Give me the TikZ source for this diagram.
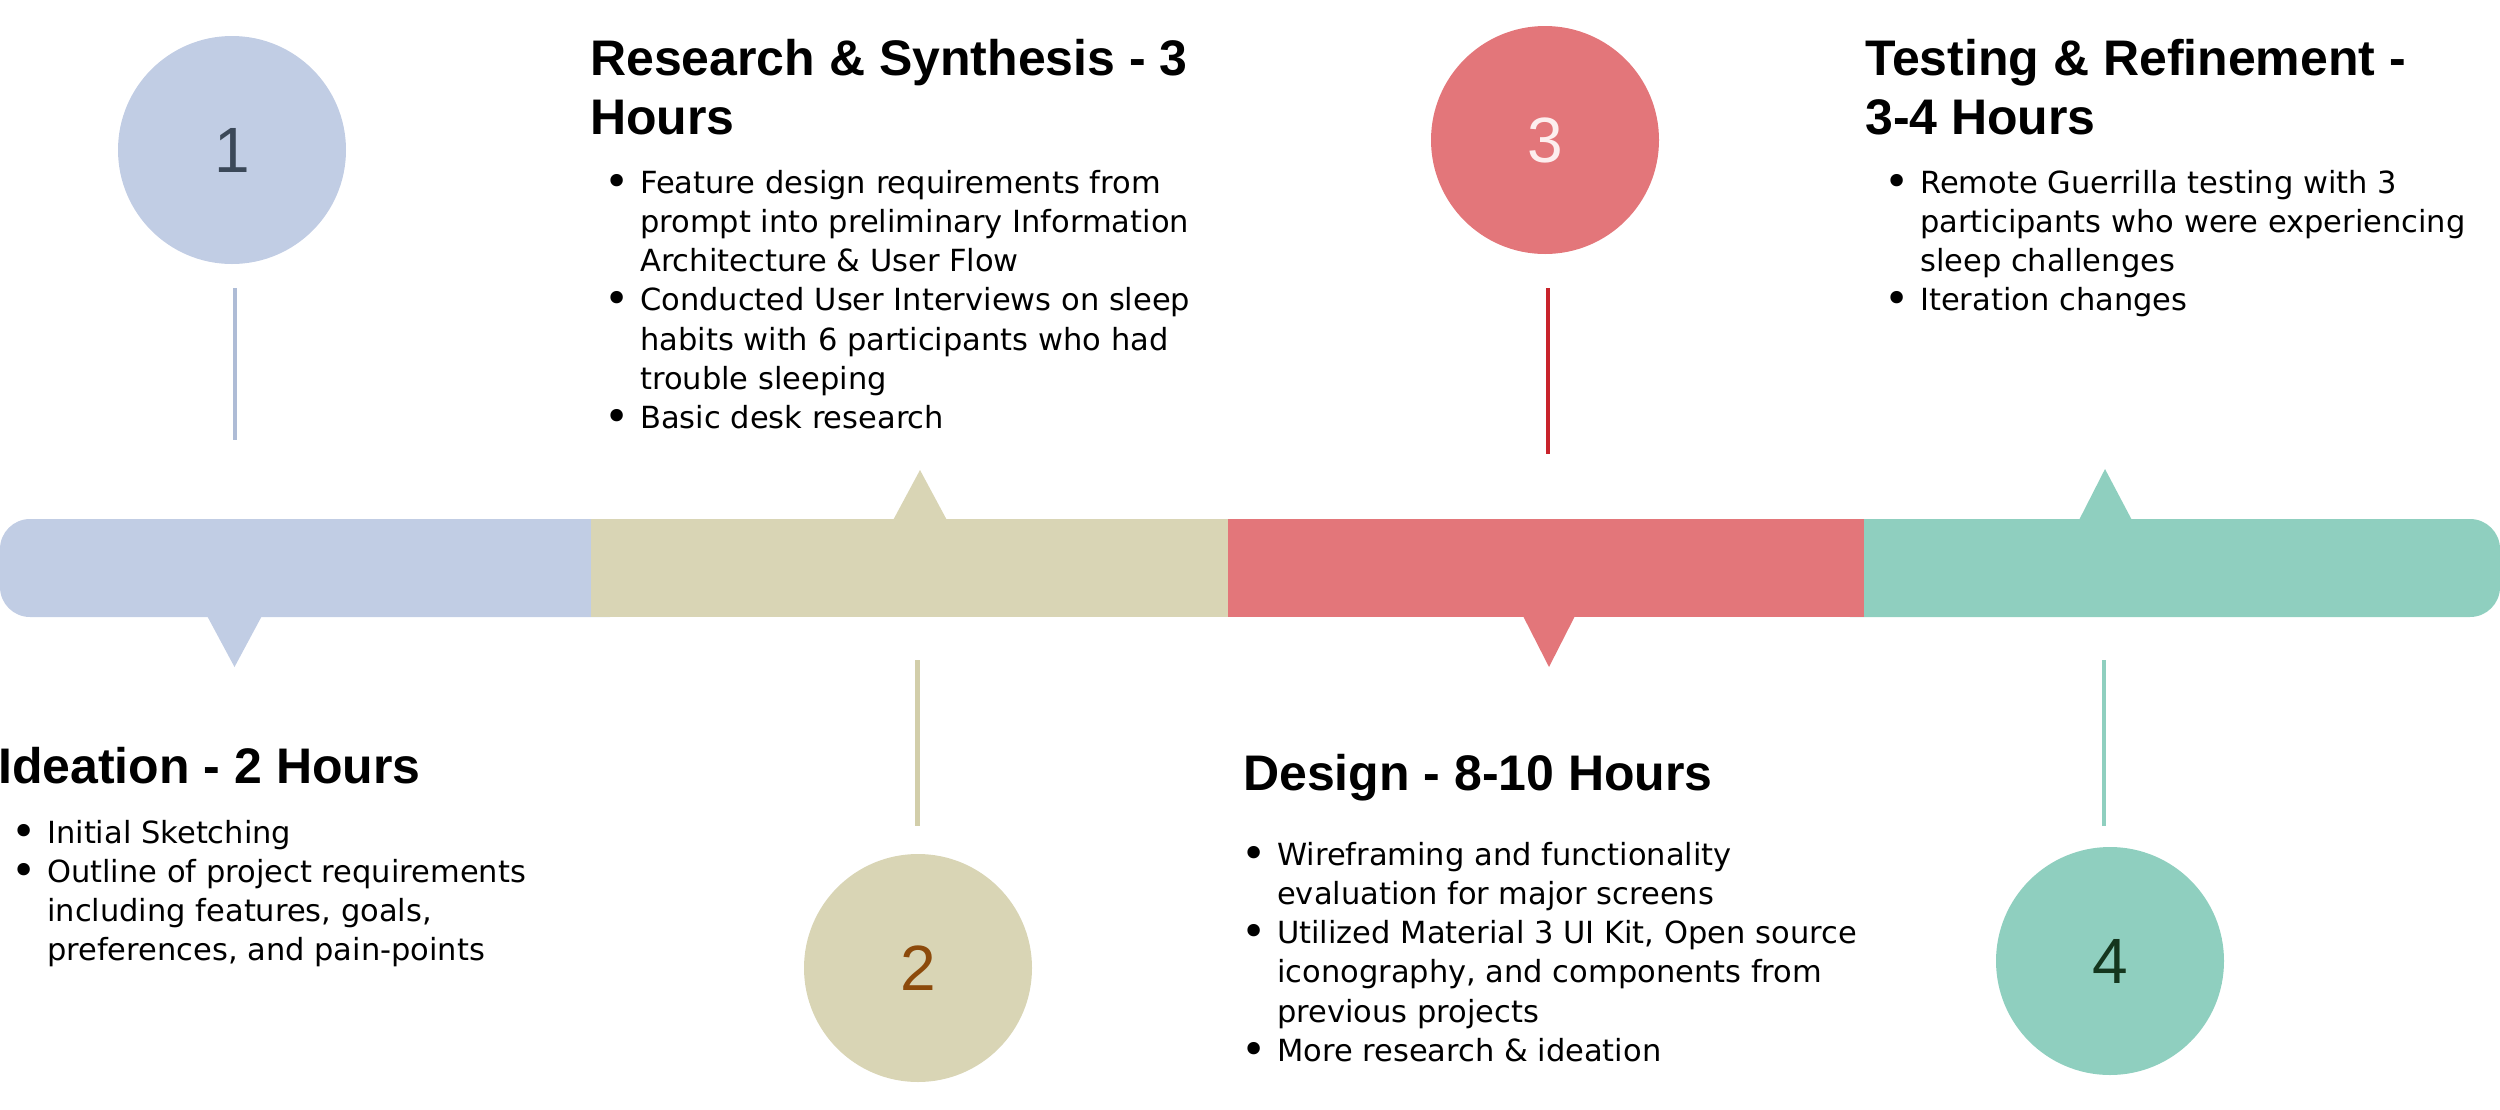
\documentclass[tikz,border=0pt]{standalone}
\usepackage{fontspec}
\usepackage{graphicx}
\setmainfont{DejaVu Sans}
\newfontfamily\titlefont{Liberation Sans}
\newfontfamily\numfont{Liberation Sans}
\definecolor{cblue}{HTML}{C1CDE4}
\definecolor{cbeige}{HTML}{D9D5B5}
\definecolor{cred}{HTML}{E3767A}
\definecolor{cteal}{HTML}{8FCFBF}
\definecolor{lblue}{HTML}{AEBCD6}
\definecolor{lbeige}{HTML}{D2CEAA}
\definecolor{lred}{HTML}{C8232B}
\definecolor{lteal}{HTML}{8FCFBF}
\definecolor{numa}{HTML}{3B4858}
\definecolor{numb}{HTML}{8C4A0B}
\definecolor{numc}{HTML}{FDEEEE}
\definecolor{numd}{HTML}{15361E}
\newcommand{\bul}{\llap{\raisebox{-3pt}{\scalebox{1.4}{\textbullet}}\hspace{10.5pt}}}
\begin{document}
\begin{tikzpicture}[x=1pt,y=-1pt,
  titletext/.style={anchor=base west, inner sep=0pt, font=\titlefont\bfseries\fontsize{50}{59}\selectfont},
  bodytext/.style={anchor=base west, inner sep=0pt, font=\fontsize{30.5}{39.3}\selectfont},
  stepcircle/.style={circle, minimum size=228pt, inner sep=0pt, font=\numfont\fontsize{64}{64}\selectfont},
  stem/.style={line width=4pt}]
\useasboundingbox (0,0) rectangle (2500,1109);

% bar
\fill[cblue, rounded corners=30pt] (0,519) rectangle (640,617);
\fill[cteal, rounded corners=30pt] (1820,519) rectangle (2500,617);
\fill[cbeige] (591,519) rectangle (1228,617);
\fill[cred] (1228,519) rectangle (1864,617);

% pointers
\coordinate (t1) at (234.5,667);
\coordinate (t2) at (920,470);
\coordinate (t3) at (1549,667);
\coordinate (t4) at (2105,469);
\fill[cblue] (205,612) -- (264,612) -- (t1) -- cycle;
\fill[cbeige] (891,524) -- (949,524) -- (t2) -- cycle;
\fill[cred] (1521,612) -- (1577,612) -- (t3) -- cycle;
\fill[cteal] (2077,524) -- (2134,524) -- (t4) -- cycle;

% circles
\node[stepcircle, fill=cblue, text=numa] (c1) at (232,150) {1};
\node[stepcircle, fill=cbeige, text=numb] (c2) at (918,968) {2};
\node[stepcircle, fill=cred, text=numc] (c3) at (1545,140) {3};
\node[stepcircle, fill=cteal, text=numd] (c4) at (2110,961) {4};

% stems
\coordinate (s1a) at (235,288); \coordinate (s1b) at (235,440);
\coordinate (s2a) at (917.5,660); \coordinate (s2b) at (917.5,826);
\coordinate (s3a) at (1548,288); \coordinate (s3b) at (1548,454);
\coordinate (s4a) at (2104,660); \coordinate (s4b) at (2104,826);
\draw[stem, line width=3.5pt, draw=lblue] (s1a) -- (s1b);
\draw[stem, line width=4.5pt, draw=lbeige] (s2a) -- (s2b);
\draw[stem, draw=lred] (s3a) -- (s3b);
\draw[stem, draw=lteal] (s4a) -- (s4b);

% titles
\node[titletext] (h1) at (-2,783.5) {\begin{tabular}[t]{@{}l@{}}Ideation - 2 Hours\end{tabular}};
\node[titletext] (h2) at (590,75) {\begin{tabular}[t]{@{}l@{}}Research \& Synthesis - 3\\Hours\end{tabular}};
\node[titletext] (h3) at (1243,790) {\begin{tabular}[t]{@{}l@{}}Design - 8-10 Hours\end{tabular}};
\node[titletext] (h4) at (1865,75) {\begin{tabular}[t]{@{}l@{}}Testing \& Refinement -\\3-4 Hours\end{tabular}};

% bodies
\node[bodytext] (b1) at (47,843) {\begin{tabular}[t]{@{}l@{}}
\bul Initial Sketching\\
\bul Outline of project requirements\\
including features, goals,\\
preferences, and pain-points\end{tabular}};
\node[bodytext] (b2) at (640,193) {\begin{tabular}[t]{@{}l@{}}
\bul Feature design requirements from\\
prompt into preliminary Information\\
Architecture \& User Flow\\
\bul Conducted User Interviews on sleep\\
habits with 6 participants who had\\
trouble sleeping\\
\bul Basic desk research\end{tabular}};
\node[bodytext] (b3) at (1277,865) {\begin{tabular}[t]{@{}l@{}}
\bul Wireframing and functionality\\
evaluation for major screens\\
\bul Utilized Material 3 UI Kit, Open source\\
iconography, and components from\\
previous projects\\
\bul More research \& ideation\end{tabular}};
\node[bodytext] (b4) at (1920,193) {\begin{tabular}[t]{@{}l@{}}
\bul Remote Guerrilla testing with 3\\
participants who were experiencing\\
sleep challenges\\
\bul Iteration changes\end{tabular}};
\end{tikzpicture}
\end{document}
